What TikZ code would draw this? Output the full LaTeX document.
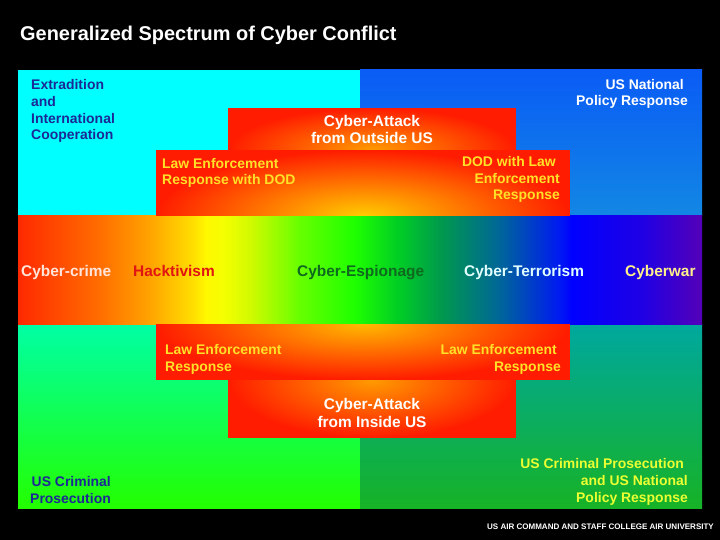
\documentclass[tikz,border=0pt]{standalone}
\usepackage{fontspec}
\setmainfont{Liberation Sans}
\usetikzlibrary{positioning}
\definecolor{qcyan}{RGB}{0,255,255}
\definecolor{qbluetop}{RGB}{10,92,245}
\definecolor{qbluebot}{RGB}{18,135,228}
\definecolor{qgreentop}{RGB}{0,255,165}
\definecolor{qgreenbot}{RGB}{35,255,0}
\definecolor{qtealtop}{RGB}{0,168,158}
\definecolor{qtealbot}{RGB}{22,178,38}
\definecolor{hred}{RGB}{255,28,0}
\definecolor{hgold}{RGB}{255,205,0}
\definecolor{hamber}{RGB}{255,185,0}
\definecolor{horange}{RGB}{255,155,0}
\definecolor{tnavy}{RGB}{28,40,150}
\definecolor{tyellow}{RGB}{255,225,40}
\definecolor{tlime}{RGB}{235,255,50}
\definecolor{tpink}{RGB}{255,228,218}
\definecolor{thack}{RGB}{225,20,20}
\definecolor{tgreen}{RGB}{15,105,30}
\definecolor{tice}{RGB}{225,255,255}
\definecolor{tcream}{RGB}{255,240,140}
\pgfdeclarehorizontalshading{spectrum}{100bp}{%
  rgb(0bp)=(1,0.16,0); rgb(25bp)=(1,0.16,0); rgb(31bp)=(1,0.43,0);
  rgb(34.6bp)=(1,0.64,0); rgb(37.9bp)=(1,0.88,0); rgb(38.7bp)=(1,0.97,0);
  rgb(40bp)=(0.96,1,0); rgb(42bp)=(0.82,0.98,0); rgb(45.6bp)=(0.4,1,0);
  rgb(49.6bp)=(0.12,1,0); rgb(52.9bp)=(0,0.8,0.15); rgb(55.9bp)=(0,0.6,0.3);
  rgb(60.2bp)=(0,0.4,0.6); rgb(64.6bp)=(0,0.1,0.95); rgb(65.5bp)=(0,0,1);
  rgb(70.5bp)=(0.12,0,0.9); rgb(75bp)=(0.33,0,0.72); rgb(100bp)=(0.33,0,0.72)}
\tikzset{
  txt/.style  ={inner sep=0pt, font=\fontsize{14}{17}\selectfont\bfseries},
  big/.style  ={inner sep=0pt, font=\fontsize{15.5}{18}\selectfont\bfseries},
  ttl/.style  ={inner sep=0pt, font=\fontsize{20}{22}\selectfont\bfseries, text=white},
  foot/.style ={inner sep=0pt, font=\fontsize{8.05}{9}\selectfont\bfseries, text=white},
  hot/.style  ={fill=hred}
}
\begin{document}
\begin{tikzpicture}[x=1bp,y=-1bp]
\fill[black] (0,0) rectangle (720,540);

\fill[qcyan] (18,70) rectangle (360,216);
\shade[top color=qbluetop, bottom color=qbluebot] (360,70) rectangle (702,216);
\shade[top color=qgreentop, bottom color=qgreenbot] (18,324) rectangle (360,508);
\shade[top color=qtealtop, bottom color=qtealbot] (360,324) rectangle (702,508);
\shade[shading=spectrum] (18,216) rectangle (702,324);

\fill[hot] (228,108) rectangle (516,150);
\begin{scope}
  \clip (228,108) rectangle (516,150);
  \shade[inner color=horange, outer color=hred] (372,150) ellipse (144 and 42);
\end{scope}
\fill[hot] (156,150) rectangle (570,216);
\begin{scope}
  \clip (156,150) rectangle (570,216);
  \shade[inner color=hgold, outer color=hred] (363,216) ellipse (207 and 66);
\end{scope}
\fill[hot] (156,324) rectangle (570,380);
\begin{scope}
  \clip (156,324) rectangle (570,380);
  \shade[inner color=hamber, outer color=hred] (363,324) ellipse (207 and 56);
\end{scope}
\fill[hot] (228,380) rectangle (516,438);
\begin{scope}
  \clip (228,380) rectangle (516,438);
  \shade[inner color=horange, outer color=hred] (372,380) ellipse (144 and 58);
\end{scope}

\node[ttl, anchor=base west] (title) at (20,41) {Generalized Spectrum of Cyber Conflict};

\node[txt, text=tnavy, align=left, anchor=base west] (extrad) at (31,140)
  {Extradition\\and\\International\\Cooperation};
\node[txt, text=white, align=right, anchor=base east] (natpol) at (688,106)
  {US National\hspace*{4bp}\\Policy Response};
\node[big, text=white, align=center, anchor=base] (outside) at (372,144)
  {Cyber-Attack\\from Outside US};
\node[txt, text=tyellow, align=left, anchor=base west] (ledod) at (162,185)
  {Law Enforcement\\Response with DOD};
\node[txt, text=tyellow, align=right, anchor=base east] (dodle) at (560,200)
  {DOD with Law\hspace*{4bp}\\Enforcement\hspace*{4bp}\\Response};

\node[big, text=tpink, anchor=base west] (crime) at (21,277) {Cyber-crime};
\node[big, text=thack, anchor=base west] (hack) at (133,277) {Hacktivism};
\node[big, text=tgreen, anchor=base west] (espion) at (297,277) {Cyber-Espionage};
\node[big, text=tice, anchor=base west] (terror) at (464,277) {Cyber-Terrorism};
\node[big, text=tcream, anchor=base west] (war) at (625,277) {Cyberwar};

\node[txt, text=tyellow, align=left, anchor=base west] (leleft) at (165,371)
  {Law Enforcement\\Response};
\node[txt, text=tyellow, align=right, anchor=base east] (leright) at (561,371)
  {Law Enforcement\hspace*{4bp}\\Response};
\node[big, text=white, align=center, anchor=base] (inside) at (372,427)
  {Cyber-Attack\\from Inside US};
\node[txt, text=tnavy, align=right, anchor=base east] (crimpro) at (111,503)
  {US Criminal\\Prosecution};
\node[txt, text=tlime, align=right, anchor=base east] (crimnat) at (688,502)
  {US Criminal Prosecution\hspace*{4bp}\\and US National\\Policy Response};

\node[foot, anchor=base west] (acsc) at (487,529)
  {US AIR COMMAND AND STAFF COLLEGE AIR UNIVERSITY};
\end{tikzpicture}
\end{document}
